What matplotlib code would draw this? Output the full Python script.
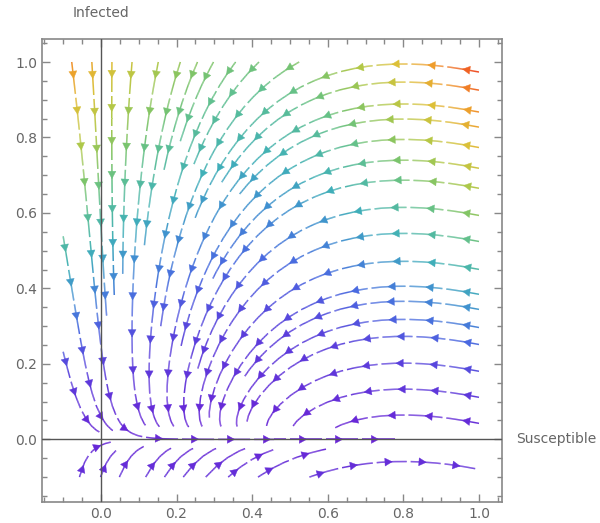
import numpy as np
import matplotlib
matplotlib.use("Agg")
import matplotlib.pyplot as plt
from matplotlib.colors import LinearSegmentedColormap, Normalize
from matplotlib.collections import LineCollection
from matplotlib.patches import FancyArrowPatch
from matplotlib.ticker import MultipleLocator

# SIR model with vital dynamics:
# S' = mu (1 - S) - beta S I,  I' = beta S I - (gamma + mu) I
beta = 1.0
gamma = 0.775
mu = 0.025
s_range = [-0.1, 1.0]
i_range = [-0.1, 1.0]
x_ticks = [0.0, 0.2, 0.4, 0.6, 0.8, 1.0]
y_ticks = [0.0, 0.2, 0.4, 0.6, 0.8, 1.0]
x_label = "Susceptible"
y_label = "Infected"

# streamline seeds
seed_top_S = [-0.077, -0.024, 0.029, 0.082, 0.151, 0.209, 0.254, 0.296, 0.354, 0.415, 0.519]
seed_right_I = [0.974, 0.926, 0.868, 0.828, 0.774, 0.719, 0.666, 0.594, 0.525, 0.451,
                0.385, 0.345, 0.297, 0.252, 0.181, 0.112, 0.043]
seed_left_I = [0.52, 0.22]
seed_bottom_S = [-0.056, 0.0, 0.05, 0.12, 0.17, 0.22, 0.28, 0.34, 0.42, 0.56]

stream_colors = [(0.00, "#6a24d6"), (0.15, "#5a40dc"), (0.25, "#4a6ae0"),
                 (0.33, "#4090d0"), (0.40, "#40b0b8"), (0.50, "#60c090"),
                 (0.56, "#7cc46a"), (0.65, "#b0c848"), (0.75, "#dcc038"),
                 (0.85, "#f09a2a"), (0.92, "#f06a24"), (1.00, "#ee3a20")]
cmap = LinearSegmentedColormap.from_list("mma", stream_colors)

S = np.linspace(s_range[0], s_range[1], 221)
I = np.linspace(i_range[0], i_range[1], 221)
SS, II = np.meshgrid(S, I)
U = mu * (1 - SS) - beta * SS * II
V = beta * SS * II - (gamma + mu) * II
speed = np.hypot(U, V)
norm = Normalize(0, speed.max())

seeds = ([(s, 0.997) for s in seed_top_S] + [(-0.097, i) for i in seed_left_I] +
         [(0.997, i) for i in seed_right_I] + [(s, -0.097) for s in seed_bottom_S])
S_eq = (gamma + mu) / beta
I_eq = mu * (1 - S_eq) / (beta * S_eq)

fig = plt.figure(figsize=(6.0, 5.23), dpi=100)
ax = fig.add_axes([42/600, 1-502/523, 460/600, 463/523])
ax.set_xlim(-0.156, 1.061)
ax.set_ylim(-0.166, 1.061)
inv = ax.transData.inverted()

raw_lines = []
for sd in seeds:
    r = ax.streamplot(S, I, U, V, color=speed, cmap=cmap, norm=norm, start_points=[sd],
                      linewidth=1.1, broken_streamlines=False, maxlength=5.0,
                      integration_direction="both")
    sg = r.lines.get_segments()
    vv = np.asarray(r.lines.get_array())
    r.lines.remove()
    if len(sg):
        pts = np.vstack([np.asarray(sg[0])[:1]] + [np.asarray(s_)[1:] for s_ in sg])
        raw_lines.append((pts, np.r_[vv, vv[-1]]))
for p in list(ax.patches):
    p.remove()

d_test = 9.0
cell = 9.0
occupied = {}

def too_close(x, y):
    cx, cy = int(x // cell), int(y // cell)
    for ix in (cx - 1, cx, cx + 1):
        for iy in (cy - 1, cy, cy + 1):
            for (px, py) in occupied.get((ix, iy), ()):
                if (px - x) ** 2 + (py - y) ** 2 < d_test ** 2:
                    return True
    return False

piece_len = 36.0
gap = 4.0
out_segs, out_cols = [], []
for pts, v in raw_lines:
    near = np.hypot(pts[:, 0] - S_eq, pts[:, 1] - I_eq) < 0.02
    if near.any():
        cut = np.argmax(near) + 1
        pts, v = pts[:cut], v[:cut]
    if len(pts) < 2:
        continue
    disp = ax.transData.transform(pts)
    d = np.r_[0, np.cumsum(np.hypot(*np.diff(disp, axis=0).T))]
    total = d[-1]
    if total < 6:
        continue
    t = np.r_[np.arange(0, total, 1.0), total]
    dx = np.interp(t, d, disp[:, 0]); dy = np.interp(t, d, disp[:, 1])
    dv = np.interp(t, d, v)
    n = len(t)
    for k in range(len(t)):
        if too_close(dx[k], dy[k]):
            n = k
            break
    if n < 12:
        continue
    t, dx, dy, dv = t[:n], dx[:n], dy[:n], dv[:n]
    for k in range(n):
        occupied.setdefault((int(dx[k] // cell), int(dy[k] // cell)), []).append((dx[k], dy[k]))
    P = inv.transform(np.c_[dx, dy])
    total = t[-1]
    n_pieces = max(1, int(round(total / piece_len)))
    plen = total / n_pieces
    for k in range(n - 1):
        m = 0.5 * (t[k] + t[k + 1])
        if n_pieces == 1 or (m % plen) < plen - gap:
            out_segs.append(P[k:k + 2]); out_cols.append(dv[k])
    for j in range(n_pieces):
        target = j * plen + plen * 0.45
        k = min(int(target), n - 2)
        p0, p1 = P[max(k - 1, 0)], P[k + 1]
        arr = FancyArrowPatch(p0, p1, arrowstyle="-|>,head_length=0.7,head_width=0.38",
                              mutation_scale=7.5, color=cmap(norm(dv[k])), lw=0.3,
                              shrinkA=0, shrinkB=0, zorder=3)
        ax.add_patch(arr)

lc = LineCollection(out_segs, colors=[cmap(norm(c)) for c in out_cols], linewidths=1.1,
                    capstyle="butt", zorder=2)
ax.add_collection(lc)

ax.axhline(0, color="#555555", lw=1.0, zorder=5)
ax.axvline(0, color="#555555", lw=1.0, zorder=5)

ax.set_xlim(-0.156, 1.061)
ax.set_ylim(-0.166, 1.061)
ax.set_xticks(x_ticks)
ax.set_yticks(y_ticks)
ax.set_xticklabels([f"{t:.1f}" for t in x_ticks])
ax.set_yticklabels([f"{t:.1f}" for t in y_ticks])
ax.xaxis.set_minor_locator(MultipleLocator(0.05))
ax.yaxis.set_minor_locator(MultipleLocator(0.05))
ax.tick_params(which="both", direction="in", top=True, right=True, color="#888888",
               labelcolor="#666666", labelsize=10)
ax.tick_params(which="major", length=6, width=1)
ax.tick_params(which="minor", length=3.5, width=1)
for sp in ax.spines.values():
    sp.set_color("#888888")
    sp.set_linewidth(1.2)

ax.annotate(x_label, xy=(1.0, 0), xycoords=("axes fraction", "data"), xytext=(10, 0),
            textcoords="offset points", ha="left", va="center", color="#666666", fontsize=10)
ax.annotate(y_label, xy=(0, 1.0), xycoords=("data", "axes fraction"), xytext=(0, 14),
            textcoords="offset points", ha="center", va="bottom", color="#666666", fontsize=10)

fig.savefig("out.png", dpi=100)
